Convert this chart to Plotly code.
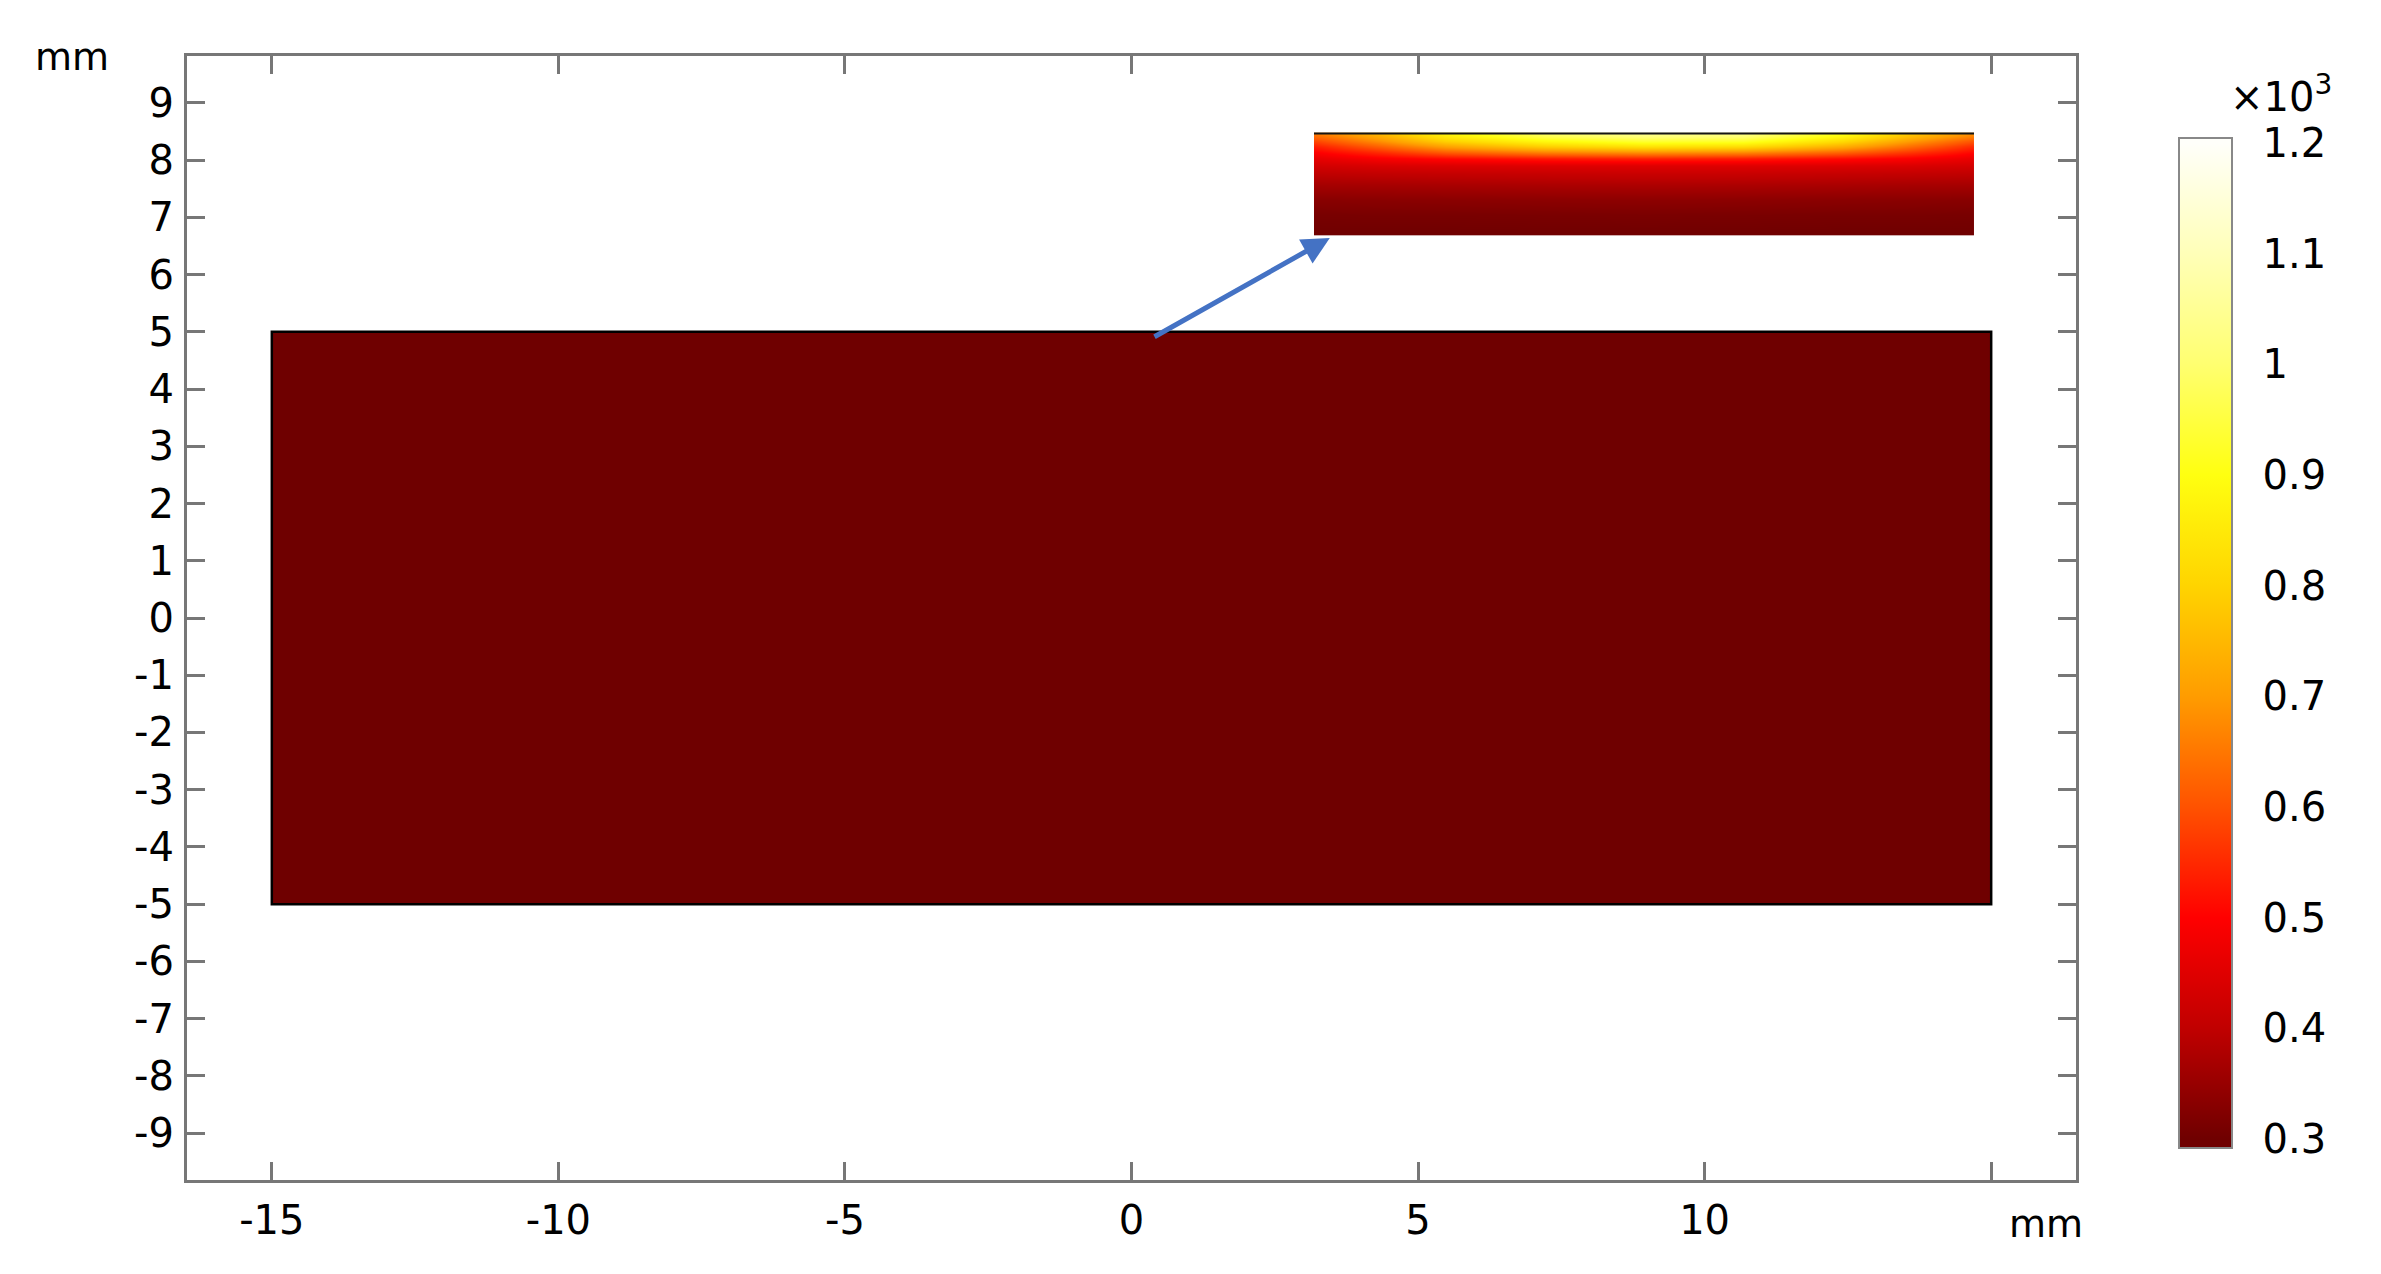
import plotly.graph_objects as go

# ---------------- data ----------------
x_ticks = [-15, -10, -5, 0, 5, 10, 15]
x_labels = ["-15", "-10", "-5", "0", "5", "10", ""]
y_ticks = list(range(-9, 10))
y_labels = [str(v) for v in y_ticks]

body_x = [-15, 15]          # mm
body_y = [-5, 5]            # mm
body_T = 300                # K (uniform)

# inset: temperature near the heated surface (K)
inset_xfrac = [0.0, 0.1, 0.2, 0.35, 0.5, 0.65, 0.8, 0.9, 1.0]
inset_depth = [0.0, 0.04, 0.09, 0.14, 0.19, 0.25, 0.32, 0.4, 0.5, 0.65, 0.8, 1.0]
inset_T = [
    [660, 760, 880, 1000, 1060, 1040, 920, 790, 690],
    [630, 730, 850, 960, 1010, 1000, 880, 760, 660],
    [580, 680, 790, 880, 930, 920, 810, 700, 600],
    [535, 620, 710, 790, 830, 820, 730, 640, 550],
    [495, 550, 610, 660, 680, 670, 620, 565, 505],
    [460, 490, 510, 530, 540, 535, 515, 495, 465],
    [430, 440, 445, 448, 450, 449, 446, 442, 432],
    [400, 405, 408, 412, 415, 414, 409, 406, 401],
    [368, 370, 373, 376, 378, 377, 374, 371, 369],
    [332, 334, 335, 337, 338, 337, 335, 334, 332],
    [311, 312, 312, 313, 314, 313, 312, 312, 311],
    [300, 300, 300, 301, 301, 301, 300, 300, 300],
]

cbar_ticks = [300, 400, 500, 600, 700, 800, 900, 1000, 1100, 1200]
cbar_labels = ["0.3", "0.4", "0.5", "0.6", "0.7", "0.8", "0.9", "1", "1.1", "1.2"]
stops_T = [300, 400, 500, 600, 700, 800, 900, 1000, 1100, 1200]
stops_color = ["#6f0000", "#c00000", "#ff0000", "#ff5200", "#ff9c00", "#ffd400",
               "#ffff10", "#ffff70", "#ffffb8", "#fffffa"]

# ---------------- layout constants ----------------
W, H = 2381, 1274
PX0, PX1, PY0, PY1 = 187, 2076, 56, 1180      # plot area in pixels
L, R, T, B = PX0, W - PX1, PY0, H - PY1
PW, PH = PX1 - PX0, PY1 - PY0
cmin, cmax = 292, 1204.5
FONT = "DejaVu Sans"
AX = "#777777"

# colorbar geometry (pixels)
CB_X0, CB_THICK, CB_TOP, CB_LEN = 2179, 53, 138, 1010

colorscale = [[0, stops_color[0]]] + \
    [[(t - cmin) / (cmax - cmin), c] for t, c in zip(stops_T, stops_color)] + \
    [[1, stops_color[-1]]]

fig = go.Figure()

fig.add_trace(go.Heatmap(
    x=body_x, y=body_y, z=[[body_T]], coloraxis="coloraxis",
    hoverinfo="skip", xaxis="x", yaxis="y"))

fig.add_trace(go.Heatmap(
    x=inset_xfrac, y=inset_depth, z=inset_T, coloraxis="coloraxis",
    zsmooth="best", hoverinfo="skip", xaxis="x2", yaxis="y2"))

axis_common = dict(
    showgrid=False, zeroline=False, showline=True, linecolor=AX, linewidth=3,
    mirror="ticks", ticks="inside", ticklen=18, tickwidth=3, tickcolor=AX,
    tickfont=dict(family=FONT, size=40, color="black"),
)

def px_x(px):
    return (px - PX0) / PW

def px_y(py):
    return (PY1 - py) / PH

fig.update_layout(
    width=W, height=H,
    margin=dict(l=L, r=R, t=T, b=B, pad=0),
    paper_bgcolor="white", plot_bgcolor="white",
    font=dict(family=FONT, color="black"),
    showlegend=False,
    xaxis=dict(range=[-16.48, 16.48], tickmode="array", tickvals=x_ticks,
               ticktext=x_labels, domain=[0, 1], ticklabelstandoff=3, **axis_common),
    yaxis=dict(range=[-9.82, 9.82], tickmode="array", tickvals=y_ticks,
               ticktext=y_labels, domain=[0, 1], ticklabelstandoff=2, **axis_common),
    xaxis2=dict(domain=[0.5966, 0.946], anchor="y2", range=[0, 1], visible=False),
    yaxis2=dict(domain=[0.840, 0.932], anchor="x2", range=[1, 0], visible=False),
    coloraxis=dict(
        colorscale=colorscale, cmin=cmin, cmax=cmax,
        colorbar=dict(
            thickness=CB_THICK, thicknessmode="pixels", len=CB_LEN, lenmode="pixels",
            x=px_x(CB_X0), xanchor="left", xpad=0,
            y=px_y(CB_TOP + CB_LEN / 2), yanchor="middle", ypad=0,
            outlinecolor="#888888", outlinewidth=2,
            tickmode="array", tickvals=cbar_ticks, ticktext=cbar_labels,
            ticks="outside", ticklen=22, tickwidth=1, tickcolor="rgba(0,0,0,0)",
            tickfont=dict(family=FONT, size=40, color="black"),
        ),
    ),
)

# inside tick marks of the colorbar, both edges
for v in cbar_ticks:
    ypx = CB_TOP + (cmax - v) * CB_LEN / (cmax - cmin)
    for xa, xb in [(CB_X0 + 1, CB_X0 + 10), (CB_X0 + CB_THICK - 10, CB_X0 + CB_THICK - 1)]:
        fig.add_shape(type="line", xref="paper", yref="paper",
                      x0=px_x(xa), x1=px_x(xb), y0=px_y(ypx), y1=px_y(ypx),
                      line=dict(color="rgba(60,0,0,0.7)", width=2), layer="above")

# body outline
fig.add_shape(type="rect", xref="x", yref="y", x0=body_x[0], x1=body_x[1],
              y0=body_y[0], y1=body_y[1], line=dict(color="black", width=2.5),
              fillcolor="rgba(0,0,0,0)", layer="above")
# inset top boundary line
fig.add_shape(type="line", xref="x2", yref="y2", x0=0, x1=1, y0=0, y1=0,
              line=dict(color="#151515", width=4), layer="above")

# arrow
fig.add_annotation(x=3.46, y=6.64, ax=0.375, ay=4.90, xref="x", yref="y",
                   axref="x", ayref="y", text="", showarrow=True, arrowhead=2,
                   arrowsize=1.1, arrowwidth=5, arrowcolor="#4472C4", standoff=0)

# unit labels
fig.add_annotation(text="mm", xref="paper", yref="paper", x=px_x(72), y=px_y(57),
                   xanchor="center", yanchor="middle", showarrow=False,
                   font=dict(family=FONT, size=38, color="black"))
fig.add_annotation(text="mm", xref="paper", yref="paper", x=px_x(2046), y=px_y(1224),
                   xanchor="center", yanchor="middle", showarrow=False,
                   font=dict(family=FONT, size=38, color="black"))
fig.add_annotation(text="×10<sup>3</sup>", xref="paper", yref="paper", x=px_x(2228),
                   y=px_y(94), xanchor="left", yanchor="middle", showarrow=False,
                   font=dict(family=FONT, size=40, color="black"))

fig.write_html("out.html", config={"displayModeBar": False},
               post_script="document.body.style.margin='0';")
